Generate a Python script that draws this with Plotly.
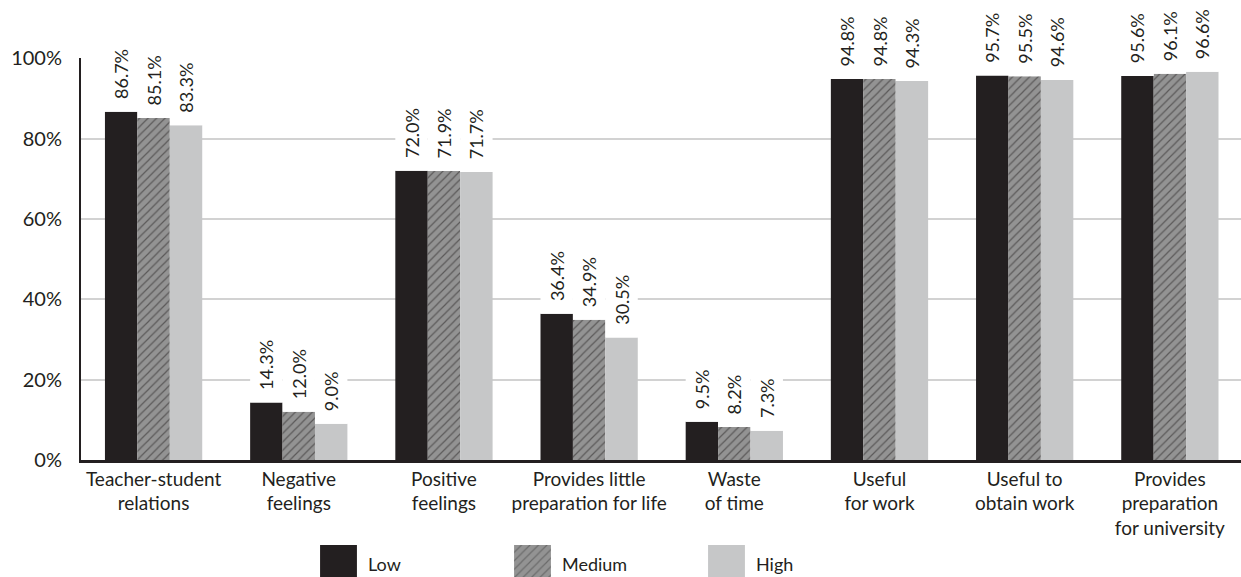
import plotly.graph_objects as go

categories = ["Teacher-student relations", "Negative feelings", "Positive feelings",
              "Provides little preparation for life", "Waste of time", "Useful for work",
              "Useful to obtain work", "Provides preparation for university"]
tick_labels = ["Teacher-student<br>relations", "Negative<br>feelings", "Positive<br>feelings",
               "Provides little<br>preparation for life", "Waste<br>of time", "Useful<br>for work",
               "Useful to<br>obtain work", "Provides<br>preparation<br>for university"]
series_names = ["Low", "Medium", "High"]
low = [86.7, 14.3, 72.0, 36.4, 9.5, 94.8, 95.7, 95.6]
medium = [85.1, 12.0, 71.9, 34.9, 8.2, 94.8, 95.5, 96.1]
high = [83.3, 9.0, 71.7, 30.5, 7.3, 94.3, 94.6, 96.6]
y_ticks = [0, 20, 40, 60, 80, 100]
y_tick_labels = ["0%", "20%", "40%", "60%", "80%", "100%"]

INK = "#231f20"
FONT = "Lato"
colors = {"Low": INK, "Medium": "#939393", "High": "#c6c7c8"}
patterns = {"Low": "", "Medium": "/", "High": ""}
values = {"Low": low, "Medium": medium, "High": high}

W, H = 1241, 577
ML, MT = 81, 58
plot_h = H - MT
main_h = 402
main_dom0 = (plot_h - main_h) / plot_h

fig = go.Figure()

# data bars
for name in series_names:
    fig.add_trace(go.Bar(
        x=categories, y=values[name], name=name, offsetgroup=name,
        marker=dict(color=colors[name], line=dict(width=0),
                    pattern=dict(shape=patterns[name], fgcolor=INK, bgcolor=colors[name],
                                 size=6, solidity=0.2)),
        showlegend=False, hoverinfo="skip", xaxis="x", yaxis="y"))

# white label boxes (interrupt gridlines behind labels)
for name in series_names:
    fig.add_trace(go.Bar(
        x=categories, y=[18] * len(categories), base=values[name], offsetgroup=name,
        marker=dict(color="white", line=dict(width=0)), cliponaxis=False,
        showlegend=False, hoverinfo="skip", xaxis="x", yaxis="y"))

# value labels
for name in series_names:
    fig.add_trace(go.Bar(
        x=categories, y=[2.4] * len(categories), base=values[name], offsetgroup=name,
        marker=dict(color="rgba(0,0,0,0)", line=dict(width=0)), cliponaxis=False,
        text=[f"{v:.1f}%" for v in values[name]], textposition="outside",
        textangle=-90, constraintext="none",
        textfont=dict(family=FONT, size=18, color=INK),
        showlegend=False, hoverinfo="skip", xaxis="x", yaxis="y"))

# custom legend swatches
fig.add_trace(go.Bar(
    x=series_names, y=[1, 1, 1], width=0.19,
    marker=dict(color=[colors[n] for n in series_names], line=dict(width=0),
                pattern=dict(shape=[patterns[n] for n in series_names], fgcolor=INK,
                             bgcolor=[colors[n] for n in series_names], size=6, solidity=0.2)),
    showlegend=False, hoverinfo="skip", xaxis="x2", yaxis="y2"))

annotations = []
for n in series_names:
    annotations.append(dict(x=n, y=0.5, xref="x2", yref="y2", text=n, showarrow=False,
                            xanchor="left", yanchor="middle", xshift=27, yshift=-3,
                            font=dict(family=FONT, size=18, color=INK)))

plot_w = W - ML
sw_c0 = 338.5
step = 194
x2_dom = [((sw_c0 - step / 2) - ML) / plot_w, ((sw_c0 + 2.5 * step) - ML) / plot_w]

fig.update_layout(
    width=W, height=H,
    margin=dict(l=ML, r=0, t=MT, b=0, pad=0, autoexpand=False),
    paper_bgcolor="white", plot_bgcolor="white",
    barmode="group", bargap=0.33, bargroupgap=0,
    showlegend=False,
    font=dict(family=FONT, size=18, color=INK),
    annotations=annotations,
    xaxis=dict(domain=[0, 1], range=[-0.5, 7.49], type="category",
               tickvals=categories, ticktext=tick_labels, showgrid=False,
               showline=True, linecolor=INK, linewidth=2.5, ticks="",
               ticklabelstandoff=0, tickfont=dict(family=FONT, size=19, color=INK),
               anchor="y", fixedrange=True, automargin=False),
    yaxis=dict(domain=[main_dom0, 1], range=[0, 100.05], tickvals=y_ticks,
               ticktext=y_tick_labels, showgrid=True, gridcolor="#d2d2d2", gridwidth=1.5,
               zeroline=False, showline=True, linecolor=INK, linewidth=2, ticks="",
               ticklabelstandoff=13, tickfont=dict(family=FONT, size=20, color=INK),
               anchor="x", fixedrange=True, automargin=False),
    xaxis2=dict(domain=x2_dom, range=[-0.5, 2.5], type="category", visible=False,
                anchor="y2", fixedrange=True),
    yaxis2=dict(domain=[0, 32 / plot_h], range=[0, 1], visible=False, anchor="x2",
                fixedrange=True),
)

fig.write_html("out.html", config={"displayModeBar": False},
               post_script="document.body.style.margin='0';")
